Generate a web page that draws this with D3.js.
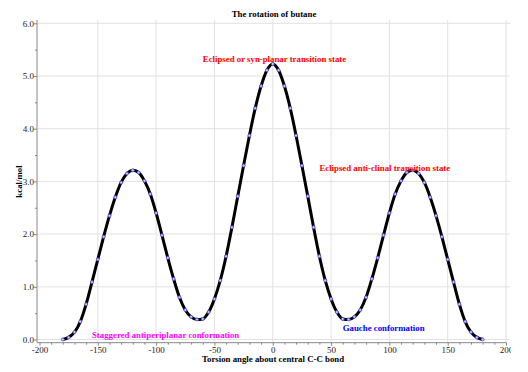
<!DOCTYPE html>
<html>
<head>
<meta charset="utf-8">
<script src="https://cdn.jsdelivr.net/npm/d3@7"></script>
<style>
  body { margin: 0; background: #fff; }
  svg { display: block; font-family: "Liberation Serif", "Times New Roman", serif; }
  .grid line { stroke: #e2e2e2; stroke-width: 1; }
  .axis text { font-size: 9px; fill: #222; font-family: "Liberation Serif", "Times New Roman", serif; }
  .axis line { stroke: #888; }
  .axis path { display: none; }
</style>
</head>
<body>
<script>
// torsion angle (degrees) and energy (kcal/mol)
var angles = [-180, -175, -170, -165, -160, -155, -150, -145, -140, -135,
    -130, -125, -120, -115, -110, -105, -100, -95, -90, -85,
    -80, -75, -70, -65, -60, -55, -50, -45, -40, -35,
    -30, -25, -20, -15, -10, -5, 0, 5, 10, 15,
    20, 25, 30, 35, 40, 45, 50, 55, 60, 65,
    70, 75, 80, 85, 90, 95, 100, 105, 110, 115,
    120, 125, 130, 135, 140, 145, 150, 155, 160, 165,
    170, 175, 180];
var energy = [0.00, 0.04, 0.14, 0.34, 0.67, 1.09, 1.52, 1.95, 2.35, 2.70,
    2.98, 3.15, 3.21, 3.17, 3.01, 2.76, 2.40, 1.98, 1.55, 1.15,
    0.80, 0.56, 0.43, 0.38, 0.39, 0.52, 0.77, 1.12, 1.58, 2.13,
    2.72, 3.30, 3.87, 4.39, 4.81, 5.11, 5.23, 5.11, 4.81, 4.39,
    3.87, 3.30, 2.72, 2.13, 1.58, 1.12, 0.77, 0.52, 0.39, 0.38,
    0.43, 0.56, 0.80, 1.15, 1.55, 1.98, 2.40, 2.76, 3.01, 3.17,
    3.21, 3.15, 2.98, 2.70, 2.35, 1.95, 1.52, 1.09, 0.67, 0.34,
    0.14, 0.04, 0.00];

var xTicks = [-200, -150, -100, -50, 0, 50, 100, 150, 200];
var yTicks = [0, 1, 2, 3, 4, 5, 6];

// labels placed at data coordinates
var noteText = ["Eclipsed or syn-planar transition state",
    "Eclipsed anti-clinal transition state",
    "Staggered antiperiplanar conformation",
    "Gauche conformation"];
var noteX = [-60, 40, -155, 60];
var noteY = [5.27, 3.20, 0.02, 0.17];
var noteColor = ["#ff0000", "#ff0000", "#ff00ff", "#0000ff"];

// the chart box is a bit narrower than the page, so the last x label gets clipped
var width = 511, height = 372;

var svg = d3.select("body").append("svg")
    .attr("width", width)
    .attr("height", height);

var x = d3.scaleLinear().domain([-200, 200]).range([39.5, 506]);
var y = d3.scaleLinear().domain([0, 6]).range([339.5, 23.3]);

var axisX = 37, axisY = 342.7;

//gridlines, a little longer than the plot area
svg.append("g").attr("class", "grid")
    .selectAll("line.h").data(yTicks).enter().append("line")
    .attr("x1", axisX).attr("x2", 510)
    .attr("y1", function (d) {return y(d);})
    .attr("y2", function (d) {return y(d);});
svg.append("g").attr("class", "grid")
    .selectAll("line.v").data(xTicks.slice(1)).enter().append("line")
    .attr("y1", 20).attr("y2", axisY)
    .attr("x1", function (d) {return x(d);})
    .attr("x2", function (d) {return x(d);});

// axes
svg.append("line")
    .attr("x1", axisX).attr("x2", axisX).attr("y1", 20).attr("y2", axisY)
    .attr("stroke", "#888");
svg.append("line")
    .attr("x1", axisX).attr("x2", 506).attr("y1", axisY).attr("y2", axisY)
    .attr("stroke", "#888");

svg.append("g").attr("class", "axis")
    .attr("transform", "translate(" + axisX + ",0)")
    .call(d3.axisLeft(y).tickValues(yTicks).tickSize(3).tickPadding(0)
        .tickFormat(function (d) {return d.toFixed(1);}));
svg.append("g").attr("class", "axis")
    .attr("transform", "translate(" + axisX + ",0)")
    .call(d3.axisLeft(y).tickValues(d3.range(0.5, 6, 1)).tickSize(2).tickFormat(""));

svg.append("g").attr("class", "axis")
    .attr("transform", "translate(0," + axisY + ")")
    .call(d3.axisBottom(x).tickValues(xTicks).tickSize(3).tickPadding(1)
        .tickFormat(function (d) {return String(d);}));
svg.append("g").attr("class", "axis")
    .attr("transform", "translate(0," + axisY + ")")
    .call(d3.axisBottom(x).tickValues(d3.range(-190, 200, 10).filter(function (d) {
        return d % 50 !== 0;
    })).tickSize(2).tickFormat(""));

// titles
svg.append("text")
    .attr("x", 274).attr("y", 17)
    .attr("text-anchor", "middle")
    .attr("font-size", "8.8px").attr("font-weight", "bold")
    .text("The rotation of butane");
svg.append("text")
    .attr("x", 273).attr("y", 362)
    .attr("text-anchor", "middle")
    .attr("font-size", "8.8px").attr("font-weight", "bold")
    .text("Torsion angle about central C-C bond");
svg.append("text")
    .attr("transform", "translate(22," + 181.5 + ") rotate(-90)")
    .attr("text-anchor", "middle")
    .attr("font-size", "8.8px").attr("font-weight", "bold")
    .text("kcal/mol");

// energy curve
var pts = angles.map(function (a, i) {return {a: a, e: energy[i]};});

var line = d3.line()
    .x(function (d) {return x(d.a);})
    .y(function (d) {return y(d.e);})
    .curve(d3.curveMonotoneX);

svg.append("path")
    .datum(pts)
    .attr("d", line)
    .attr("fill", "none")
    .attr("stroke", "#000")
    .attr("stroke-width", 3)
    .attr("stroke-linejoin", "round");

svg.append("g")
    .selectAll("circle").data(pts).enter().append("circle")
    .attr("cx", function (d) {return x(d.a);})
    .attr("cy", function (d) {return y(d.e);})
    .attr("r", 1.5)
    .attr("fill", "#c8c8ff")
    .attr("stroke", "#4646e6")
    .attr("stroke-width", 0.8);

// annotations
svg.append("g")
    .selectAll("text").data(noteText).enter().append("text")
    .attr("x", function (d, i) {return x(noteX[i]);})
    .attr("y", function (d, i) {return y(noteY[i]);})
    .attr("fill", function (d, i) {return noteColor[i];})
    .attr("font-size", "8.8px")
    .attr("font-weight", "bold")
    .text(function (d) {return d;});
</script>
</body>
</html>
